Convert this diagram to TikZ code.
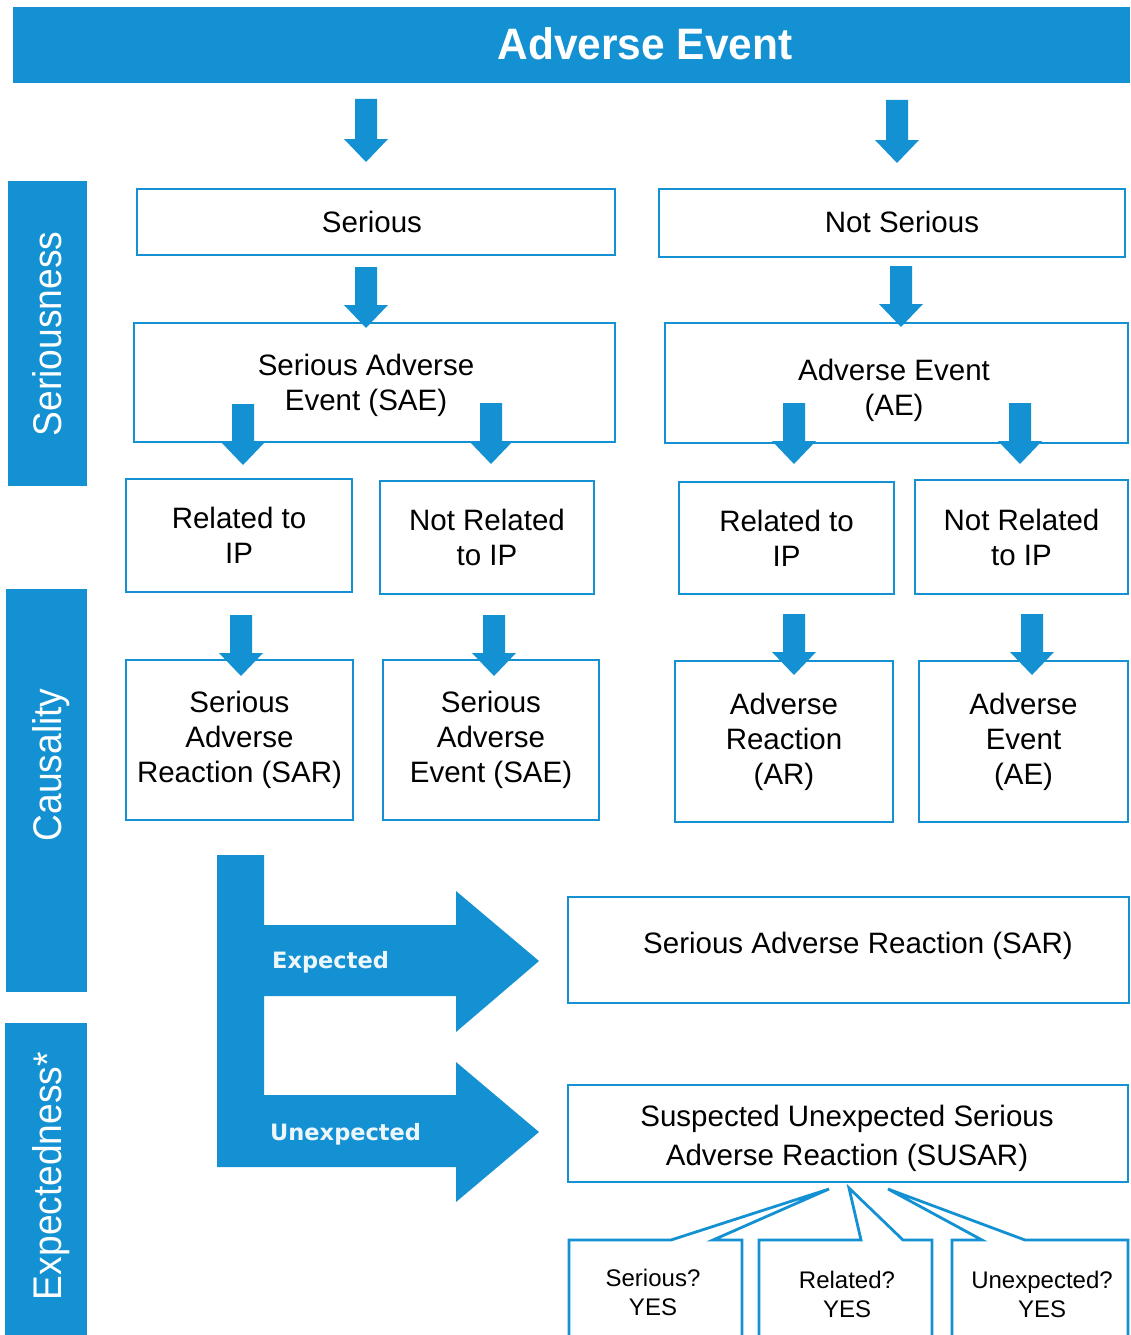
\documentclass[tikz,border=0pt]{standalone}
\usepackage{fontspec}
\setmainfont{Liberation Sans}
\newfontfamily\dejavu{DejaVu Sans}
\usepackage{graphicx}
\definecolor{ablue}{RGB}{19,145,210}
\newcommand{\bdown}[3]{\fill[ablue] ({#1-11},#2) -- ({#1+11},#2) -- ({#1+11},{#3-23}) -- ({#1+22},{#3-23}) -- (#1,#3) -- ({#1-22},{#3-23}) -- ({#1-11},{#3-23}) -- cycle;}
\begin{document}
\begin{tikzpicture}[x=1pt,y=-1pt,
  box/.style={draw=ablue, line width=2.8pt, inner sep=0pt, align=center,
    font=\fontsize{29.5}{35}\selectfont},
  boxtxt/.style={inner sep=0pt, align=center, font=\fontsize{29.5}{35}\selectfont},
  bar/.style={fill=ablue, draw=none, inner sep=0pt},
  side/.style={text=white, rotate=90, anchor=base, inner sep=0pt,
    font=\fontsize{40}{48}\selectfont},
  lbl/.style={text=white!92!ablue, anchor=base west, inner sep=0pt,
    font=\dejavu\bfseries\fontsize{22.5}{27}\selectfont},
  ctext/.style={align=center, inner sep=0pt, font=\fontsize{24}{29}\selectfont},
  callout/.style={draw=ablue, line width=2.8pt, line join=miter}]
\useasboundingbox (0,0) rectangle (1130,1335);

% header
\node[bar, minimum width=1117pt, minimum height=76pt] (hdr) at (571.5,45) {};
\node[text=white, anchor=base, inner sep=0pt, font=\bfseries\fontsize{44}{52}\selectfont] (hdrtxt) at (645,60) {\scalebox{0.965}[1]{Adverse Event}};

% side bars
\node[bar, minimum width=79pt, minimum height=305pt] (sbar) at (47.5,333.5) {};
\node[side] (stxt) at (61,334) {\scalebox{0.93}[1]{Seriousness}};
\node[bar, minimum width=81pt, minimum height=403pt] (cbar) at (46.5,790.5) {};
\node[side] (ctxt) at (61,765) {\scalebox{0.93}[1]{Causality}};
\node[bar, minimum width=82pt, minimum height=312pt] (ebar) at (46,1179) {};
\node[side] (etxt) at (61,1176) {\scalebox{0.93}[1]{Expectedness*}};

% boxes
\node[box, minimum width=478pt, minimum height=66pt] (serious) at (376,222) {};
\node[boxtxt] (serioustxt) at (372,222) {Serious};
\node[box, minimum width=466pt, minimum height=68pt] (notser) at (892,223) {};
\node[boxtxt] (notsertxt) at (902,222) {Not Serious};
\node[box, minimum width=481pt, minimum height=119pt] (sae) at (374.5,382.5) {};
\node[boxtxt] (saetxt) at (366,385) {Serious Adverse\\Event (SAE)};
\node[box, minimum width=463pt, minimum height=120pt] (ae) at (896.5,383) {};
\node[boxtxt] (aetxt) at (894,390) {Adverse Event\\(AE)};
\node[box, minimum width=226pt, minimum height=113pt] (rel1) at (239,535.5) {Related to\\IP};
\node[box, minimum width=214pt, minimum height=113pt] (nrel1) at (487,537.5) {Not Related\\to IP};
\node[box, minimum width=215pt, minimum height=112pt] (rel2) at (786.5,538) {Related to\\IP};
\node[box, minimum width=213pt, minimum height=114pt] (nrel2) at (1021.5,537) {Not Related\\to IP};
\node[box, minimum width=227pt, minimum height=160pt] (sar1) at (239.5,740) {Serious\\Adverse\\Reaction (SAR)};
\node[box, minimum width=216pt, minimum height=160pt] (sae2) at (491,740) {Serious\\Adverse\\Event (SAE)};
\node[box, minimum width=218pt, minimum height=161pt] (ar) at (784,741.5) {Adverse\\Reaction\\(AR)};
\node[box, minimum width=209pt, minimum height=161pt] (ae2) at (1023.5,741.5) {Adverse\\Event\\(AE)};
\node[box, minimum width=561pt, minimum height=106pt] (sarexp) at (848.5,950) {};
\node[boxtxt] (sarexptxt) at (858,946) {Serious Adverse Reaction (SAR)};
\node[box, minimum width=560pt, minimum height=97pt] (susar) at (848,1133.5) {};
\node[boxtxt, font=\fontsize{29.5}{39}\selectfont] (susartxt) at (847,1138) {Suspected Unexpected Serious\\Adverse Reaction (SUSAR)};

% block arrows
\bdown{366}{99}{162}
\bdown{897}{100}{163}
\bdown{366}{267}{328}
\bdown{901}{266}{327}
\bdown{243}{404}{465}
\bdown{491}{403}{464}
\bdown{794}{403}{464}
\bdown{1020}{403}{464}
\bdown{241}{615}{676}
\bdown{494}{615}{676}
\bdown{794}{614}{675}
\bdown{1032}{614}{675}

% expectedness arrow
\fill[ablue] (217,855) -- (264,855) -- (264,925) -- (456,925) -- (456,891) -- (539,961)
  -- (456,1032) -- (456,996) -- (264,996) -- (264,1095) -- (456,1095) -- (456,1062)
  -- (539,1132) -- (456,1202) -- (456,1167) -- (217,1167) -- cycle;
\node[lbl] (exp) at (272,968) {Expected};
\node[lbl] (unexp) at (270,1140) {Unexpected};

% callouts
\coordinate (t1) at (829,1189);
\coordinate (t2) at (849,1188);
\coordinate (t3) at (888,1189);
\draw[callout] (569,1335) -- (569,1240) -- (671,1240) -- (t1) -- (713,1240) -- (742,1240) -- (742,1335);
\draw[callout] (759,1335) -- (759,1240) -- (861,1240) -- (t2) -- (903,1240) -- (932,1240) -- (932,1335);
\draw[callout] (952,1335) -- (952,1240) -- (982,1240) -- (t3) -- (1025,1240) -- (1128,1240) -- (1128,1335);
\node[ctext] (q1) at (653,1292.5) {Serious?\\YES};
\node[ctext] (q2) at (847,1294) {Related?\\YES};
\node[ctext] (q3) at (1042,1294) {Unexpected?\\YES};
\end{tikzpicture}
\end{document}
